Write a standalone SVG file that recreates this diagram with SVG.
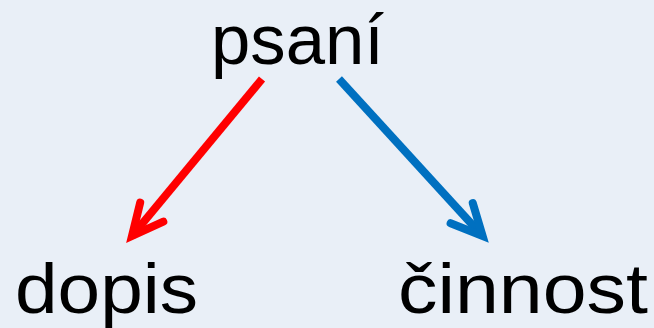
<svg xmlns="http://www.w3.org/2000/svg" width="654" height="328" viewBox="0 0 654 328">
  <style>
    .lbl { font-family: "Liberation Sans", Arial, sans-serif; font-size: 70px; fill: #000000; }
    .red { stroke: #FF0000; stroke-width: 8; fill: none; }
    .blue { stroke: #0070C0; stroke-width: 8; fill: none; }
  </style>
  <defs>
    <marker id="headRed" markerUnits="userSpaceOnUse" orient="auto" refX="0" refY="0" markerWidth="80" markerHeight="80" overflow="visible">
      <path d="M-31,-15 L0,0 L-31,15" stroke="#FF0000" stroke-width="8" fill="none" stroke-linecap="round" stroke-linejoin="miter"/>
    </marker>
    <marker id="headBlue" markerUnits="userSpaceOnUse" orient="auto" refX="0" refY="0" markerWidth="80" markerHeight="80" overflow="visible">
      <path d="M-31,-15 L0,0 L-31,15" stroke="#0070C0" stroke-width="8" fill="none" stroke-linecap="round" stroke-linejoin="miter"/>
    </marker>
  </defs>
  <rect x="0" y="0" width="654" height="328" fill="#E9EFF7"/>
  <g id="connectors">
    <path class="red" d="M262,79 L132,236" marker-end="url(#headRed)"/>
    <path class="blue" d="M339,79 L482.6,236" marker-end="url(#headBlue)"/>
  </g>
  <g id="node-psani">
    <text class="lbl" x="211" y="64" textLength="173" lengthAdjust="spacingAndGlyphs">psaní</text>
  </g>
  <g id="node-dopis">
    <text class="lbl" x="15" y="313" textLength="183" lengthAdjust="spacingAndGlyphs">dopis</text>
  </g>
  <g id="node-cinnost">
    <text class="lbl" x="398" y="313" textLength="250" lengthAdjust="spacingAndGlyphs">činnost</text>
  </g>
</svg>
